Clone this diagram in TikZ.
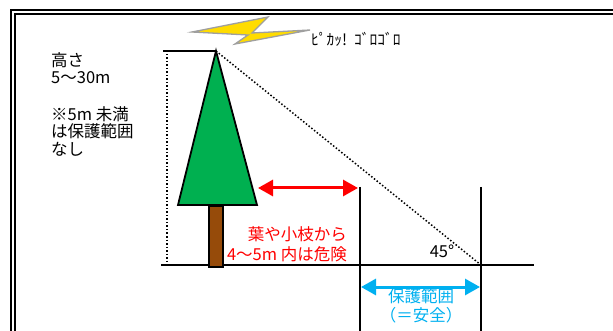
\documentclass[tikz,border=0pt]{standalone}
\usepackage{fontspec}
\setmainfont{Noto Sans CJK JP}
\usetikzlibrary{arrows.meta}
\definecolor{leafgreen}{RGB}{0,176,80}
\definecolor{trunkbrown}{RGB}{150,75,10}
\definecolor{safeblue}{RGB}{0,176,240}
\definecolor{boltyellow}{RGB}{255,220,0}

\begin{document}
\begin{tikzpicture}[x=1pt, y=-1pt,
	main line/.style={line width=1.8pt},
	guide line/.style={line width=1.5pt, dash pattern=on 1.5pt off 2pt},
	span arrow/.style={line width=3pt, {Triangle[length=15pt,width=16pt]}-{Triangle[length=15pt,width=16pt]}},
	main text/.style={font=\fontsize{16.5}{17.5}\selectfont, inner sep=0pt}]
	\useasboundingbox (0,0) rectangle (613,331);
	\draw[line width=1.3pt] (11,331) -- (11,10) -- (613,10);
	\draw[line width=1.3pt] (15,331) -- (15,14) -- (613,14);
	\coordinate (apex) at (216,51);
	\coordinate (top mark) at (163,51);
	\coordinate (base left) at (178,205);
	\coordinate (base right) at (257,205);
	\coordinate (ground left) at (161,265);
	\coordinate (ground right) at (534,265);
	\coordinate (limit) at (481,265);
	\coordinate (danger top) at (360,187);
	\coordinate (danger end) at (360,331);
	\coordinate (safe top) at (481,187);
	\coordinate (safe end) at (481,331);
	\draw[guide line] (167,54) -- (167,264);
	\draw[guide line] (apex) -- (limit);
	\draw[main line] (top mark) -- (apex);
	\draw[main line] (ground left) -- (ground right);
	\draw[main line] (danger top) -- (danger end);
	\draw[main line] (safe top) -- (safe end);
	\draw[main line, fill=leafgreen, line join=miter] (apex) -- (base left) -- (base right) -- cycle;
	\draw[line width=1.3pt, fill=trunkbrown] (209,206) rectangle (223,267);
	\draw[line width=1.3pt, draw=gray!75, fill=boltyellow]
		(192,32) -- (268,17) -- (252,33) -- (310,30) -- (235,44) -- (248,35) -- cycle;
	\node[font=\fontsize{15.5}{17}\selectfont, inner sep=0pt, anchor=west] (thunder) at (311,39) {ﾋﾟｶｯ!\ \ ｺﾞﾛｺﾞﾛ};
	\node[main text, align=left, anchor=west] (height) at (51,68) {高さ\\5〜30m};
	\node[main text, align=left, anchor=west] (note) at (51,131) {※5m 未満\\は保護範囲\\なし};
	\coordinate (red left) at (258,188);
	\coordinate (red right) at (358,188);
	\draw[span arrow, red] (red left) -- (red right);
	\node[main text, red, align=right, anchor=east, font=\fontsize{16.5}{20}\selectfont] (danger) at (347,244) {葉や小枝から\\4〜5m 内は危険};
	\node[main text] (angle) at (442,251) {45°};
	\coordinate (blue left) at (361,287);
	\coordinate (blue right) at (480,287);
	\draw[span arrow, safeblue] (blue left) -- (blue right);
	\node[main text, safeblue, align=center, font=\fontsize{16.5}{19}\selectfont] (safe) at (421,306) {保護範囲\\（＝安全）};
\end{tikzpicture}
\end{document}
